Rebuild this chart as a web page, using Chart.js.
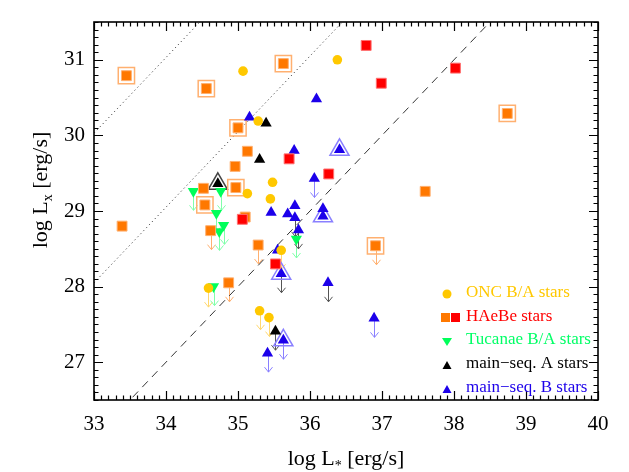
<!DOCTYPE html>
<html>
<head>
<meta charset="utf-8">
<script src="https://cdn.jsdelivr.net/npm/chart.js@4.4.1/dist/chart.umd.min.js"></script>
<style>
  html, body { margin: 0; padding: 0; background: #fff; }
  #wrap { width: 629px; height: 472px; }
</style>
</head>
<body>
<div id="wrap"><canvas id="c" width="629" height="472"></canvas></div>
<script>
/* log Lx vs log L* for B/A stars */

const FONT = "'Liberation Serif', 'Times New Roman', serif";

// axis ranges and tick labels
const xTicks = [33, 34, 35, 36, 37, 38, 39, 40];
const yTicks = [27, 28, 29, 30, 31];
const xRange = [33, 40];
const yRange = [26.5, 31.5];

// log(Lx/L*) reference lines: two dotted, one dashed
const dottedRatios = [-2.97, -4.95];
const dashedRatio = -7;

// [log L*, log Lx, limit (0 none, 1 coloured arrow, 2 grey arrow), boxed]
const onc = [
  [35.07, 30.85, 0, 0], [36.38, 31.00, 0, 0], [35.28, 30.19, 0, 0],
  [35.48, 29.38, 0, 0], [35.13, 29.23, 0, 0], [35.45, 29.16, 0, 0],
  [35.60, 28.48, 1, 0], [34.59, 27.98, 1, 0], [35.30, 27.68, 1, 0],
  [35.43, 27.59, 1, 0]
];
const haebeOrange = [
  [35.13, 29.79, 0, 0], [34.96, 29.59, 0, 0], [34.52, 29.30, 0, 0],
  [33.39, 28.80, 0, 0], [35.10, 28.92, 0, 0], [37.60, 29.26, 0, 0],
  [34.62, 28.74, 1, 0], [35.28, 28.55, 1, 0], [34.87, 28.05, 1, 0],
  [33.45, 30.79, 0, 1], [34.56, 30.62, 0, 1], [35.63, 30.95, 0, 1],
  [35.00, 30.10, 0, 1], [34.97, 29.31, 0, 1], [34.54, 29.08, 0, 1],
  [38.74, 30.29, 0, 1], [36.91, 28.54, 1, 1]
];
const haebeRed = [
  [36.78, 31.19, 0, 0], [38.02, 30.89, 0, 0], [36.99, 30.69, 0, 0],
  [35.71, 29.69, 0, 0], [36.26, 29.49, 0, 0], [35.06, 28.89, 0, 0],
  [35.52, 28.30, 0, 0]
];
const tucanae = [
  [34.38, 29.26, 1, 0], [34.76, 29.26, 1, 0], [34.70, 28.97, 1, 0],
  [34.80, 28.81, 1, 0], [34.74, 28.73, 1, 0], [35.81, 28.63, 1, 0],
  [34.66, 28.00, 1, 0]
];
const msA = [
  [35.39, 30.16, 0, 0], [35.30, 29.68, 0, 0], [34.72, 29.36, 0, 1],
  [35.52, 27.41, 2, 0]
];
const msB = [
  [36.09, 30.48, 0, 0], [35.16, 30.24, 0, 0], [35.78, 29.80, 0, 0],
  [35.79, 29.07, 0, 0], [35.46, 28.98, 0, 0], [35.69, 28.96, 0, 0],
  [36.18, 29.03, 0, 0], [35.55, 28.48, 0, 0],
  [36.41, 29.81, 0, 1], [36.18, 28.93, 0, 1],
  [36.06, 29.43, 1, 0], [35.41, 27.12, 1, 0], [36.89, 27.58, 1, 0],
  [35.63, 27.29, 1, 1],
  [35.79, 28.91, 2, 0], [35.84, 28.75, 2, 0], [36.25, 28.05, 2, 0],
  [35.60, 28.17, 2, 1]
];

const legendLabels = ['ONC B/A stars', 'HAeBe stars', 'Tucanae B/A stars', 'main\u2212seq. A stars', 'main\u2212seq. B stars'];

const C = {
  yellow: '#ffc800', yellowL: '#ffd870',
  orange: '#ff7800', orangeL: '#ffb070',
  red: '#ff0000',
  green: '#00ff5a', greenL: '#80ffaa',
  black: '#000000', grey: '#555555',
  blue: '#1c00ea', blueL: '#8a80ff'
};

const pts = (arr, f) => arr.filter(f).map(p => ({ x: p[0], y: p[1] }));
const ratioLine = r => [{ x: xRange[0], y: xRange[0] + r }, { x: xRange[1], y: xRange[1] + r }];

const ds = [];
function marker(data, style, color, radius, opts) {
  ds.push(Object.assign({
    data, pointStyle: style, pointRadius: radius, pointHoverRadius: radius,
    backgroundColor: color, borderColor: color, borderWidth: 0, order: 1, clip: 0
  }, opts || {}));
}
function outline(data, style, color, radius, rot) {
  ds.push({
    data, pointStyle: style, pointRadius: radius, pointHoverRadius: radius,
    pointRotation: rot || 0, backgroundColor: 'rgba(0,0,0,0)', borderColor: color,
    borderWidth: 1.5, order: 2, clip: 0
  });
}

// markers (first pushed = drawn on top)
marker(pts(haebeRed, p => true), 'rect', C.red, 7, { borderColor: '#ff7070', borderWidth: 1 });
marker(pts(haebeOrange, p => !p[2]), 'rect', C.orange, 7, { borderColor: C.orangeL, borderWidth: 1 });
marker(pts(haebeOrange, p => p[2] === 1), 'rect', C.orange, 7, { borderColor: C.orangeL, borderWidth: 1, arrow: C.orangeL });
marker(pts(onc, p => !p[2]), 'circle', C.yellow, 4.8);
marker(pts(onc, p => p[2] === 1), 'circle', C.yellow, 4.8, { arrow: C.yellowL });
marker(pts(tucanae, p => true), 'triangle', C.green, 6.5, { rotation: 180, arrow: C.greenL });
marker(pts(msA, p => !p[2]), 'triangle', C.black, 6.5);
marker(pts(msA, p => p[2] === 2), 'triangle', C.black, 6.5, { arrow: C.grey });
marker(pts(msB, p => !p[2]), 'triangle', C.blue, 6.5);
marker(pts(msB, p => p[2] === 1), 'triangle', C.blue, 6.5, { arrow: C.blueL });
marker(pts(msB, p => p[2] === 2), 'triangle', C.blue, 6.5, { arrow: C.grey });

// boxed markers
outline(pts(haebeOrange, p => p[3]), 'rect', C.orangeL, 11.5);
outline(pts(msA, p => p[3]), 'triangle', '#444', 11);
outline(pts(msB, p => p[3]), 'triangle', C.blueL, 11);

// ratio lines
dottedRatios.forEach(r => ds.push({
  type: 'line', data: ratioLine(r), borderColor: '#444', borderWidth: 1,
  borderDash: [1.2, 3], pointRadius: 0, order: 5, clip: 0
}));
ds.push({
  type: 'line', data: ratioLine(dashedRatio), borderColor: '#333', borderWidth: 1,
  borderDash: [8, 6], pointRadius: 0, order: 5, clip: 0
});

/* ── upper limit arrows ─────────────── */
const arrows = {
  id: 'arrows',
  beforeDatasetsDraw(chart) {
    const ctx = chart.ctx;
    ctx.save();
    ctx.lineWidth = 1;
    chart.data.datasets.forEach((d, i) => {
      if (!d.arrow) return;
      ctx.strokeStyle = d.arrow;
      chart.getDatasetMeta(i).data.forEach(el => {
        const x = Math.round(el.x) + 0.5, y = el.y;
        ctx.beginPath();
        ctx.moveTo(x, y);
        ctx.lineTo(x, y + 19);
        ctx.moveTo(x - 4, y + 14);
        ctx.lineTo(x, y + 19);
        ctx.lineTo(x + 4, y + 14);
        ctx.stroke();
      });
    });
    ctx.restore();
  }
};

/* ── frame, ticks, titles, legend ───── */
const frame = {
  id: 'frame',
  afterDraw(chart) {
    const ctx = chart.ctx, a = chart.chartArea;
    const sx = chart.scales.x, sy = chart.scales.y;
    ctx.save();
    ctx.strokeStyle = '#000';
    ctx.lineWidth = 1.2;
    ctx.beginPath();
    for (let i = 0; i <= 70; i++) {
      const v = xRange[0] + i / 10, px = Math.round(sx.getPixelForValue(v)) + 0.5;
      const len = i % 10 === 0 ? 9 : 4.5;
      ctx.moveTo(px, a.bottom); ctx.lineTo(px, a.bottom - len);
      ctx.moveTo(px, a.top); ctx.lineTo(px, a.top + len);
    }
    for (let i = 0; i <= 50; i++) {
      const v = yRange[0] + i / 10, py = Math.round(sy.getPixelForValue(v)) + 0.5;
      const len = (i + 5) % 10 === 0 ? 9 : 4.5;
      ctx.moveTo(a.left, py); ctx.lineTo(a.left + len, py);
      ctx.moveTo(a.right, py); ctx.lineTo(a.right - len, py);
    }
    ctx.stroke();
    ctx.lineWidth = 1.6;
    ctx.strokeRect(a.left, a.top, a.right - a.left, a.bottom - a.top);

    // axis titles with subscripts
    const big = '22px ' + FONT, small = '14px ' + FONT;
    function titled(parts) {
      let w = 0;
      parts.forEach(p => { ctx.font = p[1]; w += ctx.measureText(p[0]).width; });
      let x = -w / 2;
      parts.forEach(p => {
        ctx.font = p[1];
        ctx.fillText(p[0], x, p[2]);
        x += ctx.measureText(p[0]).width;
      });
    }
    ctx.fillStyle = '#000';
    ctx.textAlign = 'left';
    ctx.textBaseline = 'alphabetic';
    ctx.save();
    ctx.translate((a.left + a.right) / 2, 465);
    titled([['log L', big, 0], ['*', small, 5], [' [erg/s]', big, 0]]);
    ctx.restore();
    ctx.save();
    ctx.translate(47, 190);
    ctx.rotate(-Math.PI / 2);
    titled([['log L', big, 0], ['x', small, 5], [' [erg/s]', big, 0]]);
    ctx.restore();

    // legend
    const lx = 447, tx = 466, rows = [292, 316, 339, 363, 387];
    const cols = [C.yellow, C.red, '#00ff66', C.black, C.blue];
    ctx.font = '17px ' + FONT;
    ctx.textBaseline = 'middle';
    legendLabels.forEach((t, i) => {
      const y = rows[i];
      ctx.fillStyle = cols[i];
      ctx.fillText(t, tx, y + 1);
    });
    ctx.fillStyle = C.yellow;
    ctx.beginPath(); ctx.arc(lx, rows[0] + 2, 4.5, 0, Math.PI * 2); ctx.fill();
    ctx.fillStyle = C.orange; ctx.fillRect(lx - 6, rows[1] - 3, 9, 9);
    ctx.fillStyle = C.red; ctx.fillRect(lx + 4, rows[1] - 3, 9, 9);
    const tri = (y, col, down) => {
      ctx.fillStyle = col;
      ctx.beginPath();
      if (down) { ctx.moveTo(lx - 5, y - 3); ctx.lineTo(lx + 5, y - 3); ctx.lineTo(lx, y + 5); }
      else { ctx.moveTo(lx - 4.5, y + 4); ctx.lineTo(lx + 4.5, y + 4); ctx.lineTo(lx, y - 4); }
      ctx.fill();
    };
    tri(rows[2] + 2, C.green, true);
    tri(rows[3] + 2, C.black, false);
    tri(rows[4] + 2, C.blue, false);
    ctx.restore();
  }
};

new Chart('c', {
  type: 'scatter',
  data: { datasets: ds },
  options: {
    responsive: false, animation: false, events: [],
    layout: { padding: { top: 22, right: 31, left: 0, bottom: 0 } },
    plugins: { legend: { display: false }, tooltip: { enabled: false } },
    scales: {
      x: {
        type: 'linear', min: xRange[0], max: xRange[1],
        afterFit: s => { s.height = 72; },
        afterBuildTicks: s => { s.ticks = xTicks.map(v => ({ value: v })); },
        grid: { display: false, drawTicks: false }, border: { display: false },
        ticks: { color: '#000', padding: 12, maxRotation: 0, font: { family: FONT, size: 21 } }
      },
      y: {
        type: 'linear', min: yRange[0], max: yRange[1],
        afterFit: s => { s.width = 94; },
        afterBuildTicks: s => { s.ticks = yTicks.map(v => ({ value: v })); },
        grid: { display: false, drawTicks: false }, border: { display: false },
        ticks: { color: '#000', padding: 9, font: { family: FONT, size: 21 } }
      }
    }
  },
  plugins: [arrows, frame]
});
</script>
</body>
</html>
